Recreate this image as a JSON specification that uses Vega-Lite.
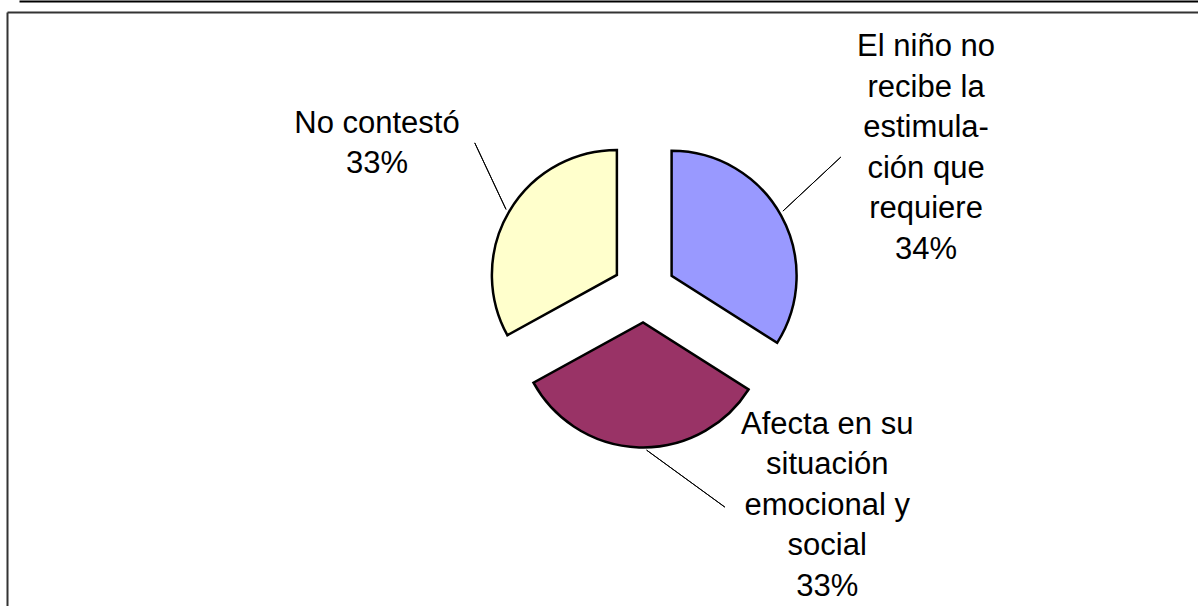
{
  "$schema": "https://vega.github.io/schema/vega-lite/v6.json",
  "width": 1274,
  "height": 558,
  "autosize": {"type": "none"},
  "padding": {"left": 7, "top": 12, "right": -83, "bottom": 36},
  "background": "white",
  "config": {"view": {"stroke": null}},
  "data": {
    "values": [
      {"cat": "El niño no recibe la estimulación que requiere", "label": ["El niño no", "recibe la", "estimula-", "ción que", "requiere", "34%"], "pct": 34, "orden": 1},
      {"cat": "Afecta en su situación emocional y social", "label": ["Afecta en su", "situación", "emocional y", "social", "33%"], "pct": 33, "orden": 2},
      {"cat": "No contestó", "label": ["No contestó", "33%"], "pct": 33, "orden": 3}
    ]
  },
  "transform": [
    {"stack": "pct", "groupby": [], "sort": [{"field": "orden", "order": "ascending"}], "as": ["s0", "s1"]}
  ],
  "resolve": {"scale": {"x": "independent"}, "axis": {"x": "independent"}},
  "layer": [
    {
      "mark": {"type": "point", "opacity": 0},
      "encoding": {
        "x": {"datum": 0, "type": "quantitative", "scale": {"domain": [0, 1], "range": [0, 1400]},
          "axis": {"orient": "top", "domain": true, "domainColor": "#333333", "domainWidth": 2, "ticks": false, "labels": false, "grid": false, "title": null}},
        "y": {"datum": 0, "type": "quantitative", "scale": {"domain": [0, 1], "range": [0, 700]},
          "axis": {"orient": "left", "domain": true, "domainColor": "#333333", "domainWidth": 2, "ticks": false, "labels": false, "grid": false, "title": null}}
      }
    },
    {
      "mark": {"type": "point", "opacity": 0},
      "encoding": {
        "x": {"datum": 0, "type": "quantitative", "scale": {"domain": [0, 1], "range": [12, 1400]},
          "axis": {"orient": "top", "offset": 11, "domain": true, "domainColor": "black", "domainWidth": 2, "ticks": false, "labels": false, "grid": false, "title": null}}
      }
    },
    {
      "mark": {"type": "arc", "outerRadius": 125, "stroke": "black", "strokeWidth": 2.5,
        "xOffset": {"expr": "31.5*sin(PI*(datum.s0+datum.s1)/100)"},
        "yOffset": {"expr": "-31.5*cos(PI*(datum.s0+datum.s1)/100)"}},
      "encoding": {
        "theta": {"field": "s0", "type": "quantitative", "scale": {"domain": [0, 100]}},
        "theta2": {"field": "s1"},
        "color": {"field": "cat", "type": "nominal",
          "scale": {"domain": ["El niño no recibe la estimulación que requiere", "Afecta en su situación emocional y social", "No contestó"], "range": ["#9999FF", "#993366", "#FFFFCC"]},
          "legend": null}
      }
    },
    {
      "transform": [{"filter": "datum.orden == 1"}],
      "mark": {"type": "arc", "filled": false, "color": "black", "strokeWidth": 1, "innerRadius": 12.6, "outerRadius": 91.8, "thetaOffset": 0.82, "theta2Offset": 0.82,
        "xOffset": {"expr": "148*sin(PI*(datum.s0+datum.s1)/100)"},
        "yOffset": {"expr": "-148*cos(PI*(datum.s0+datum.s1)/100)"}},
      "encoding": {"theta": {"field": "s0", "type": "quantitative"}, "theta2": {"field": "s0"}}
    },
    {
      "transform": [{"filter": "datum.orden == 2"}],
      "mark": {"type": "arc", "filled": false, "color": "black", "strokeWidth": 1, "innerRadius": 9.2, "outerRadius": 106, "thetaOffset": 0.0637, "theta2Offset": 0.0637,
        "xOffset": {"expr": "153.8*sin(PI*(datum.s0+datum.s1)/100)"},
        "yOffset": {"expr": "-153.8*cos(PI*(datum.s0+datum.s1)/100)"}},
      "encoding": {"theta": {"field": "s0", "type": "quantitative"}, "theta2": {"field": "s0"}}
    },
    {
      "transform": [{"filter": "datum.orden == 3"}],
      "mark": {"type": "arc", "filled": false, "color": "black", "strokeWidth": 1, "innerRadius": 0, "outerRadius": 73.5, "thetaOffset": 1.634, "theta2Offset": 1.634,
        "xOffset": {"expr": "160.3*sin(PI*(datum.s0+datum.s1)/100)"},
        "yOffset": {"expr": "-160.3*cos(PI*(datum.s0+datum.s1)/100)"}},
      "encoding": {"theta": {"field": "s0", "type": "quantitative"}, "theta2": {"field": "s0"}}
    },
    {
      "transform": [{"filter": "datum.orden == 1"}],
      "mark": {"type": "text", "radius": 315, "thetaOffset": {"expr": "PI*(datum.s1-datum.s0)/100"}, "dx": 6, "dy": -92,
        "font": "Liberation Sans", "fontSize": 31, "lineHeight": 40.5, "align": "center", "baseline": "middle", "color": "black"},
      "encoding": {"theta": {"field": "s0", "type": "quantitative"}, "text": {"field": "label", "type": "nominal"}}
    },
    {
      "transform": [{"filter": "datum.orden == 2"}],
      "mark": {"type": "text", "radius": 215, "thetaOffset": {"expr": "PI*(datum.s1-datum.s0)/100"}, "dx": 190, "dy": -81,
        "font": "Liberation Sans", "fontSize": 31, "lineHeight": 40.5, "align": "center", "baseline": "middle", "color": "black"},
      "encoding": {"theta": {"field": "s0", "type": "quantitative"}, "text": {"field": "label", "type": "nominal"}}
    },
    {
      "transform": [{"filter": "datum.orden == 3"}],
      "mark": {"type": "text", "radius": 305, "thetaOffset": {"expr": "PI*(datum.s1-datum.s0)/100"}, "dx": -4.5, "dy": -12,
        "font": "Liberation Sans", "fontSize": 31, "lineHeight": 40.5, "align": "center", "baseline": "middle", "color": "black"},
      "encoding": {"theta": {"field": "s0", "type": "quantitative"}, "text": {"field": "label", "type": "nominal"}}
    }
  ]
}
